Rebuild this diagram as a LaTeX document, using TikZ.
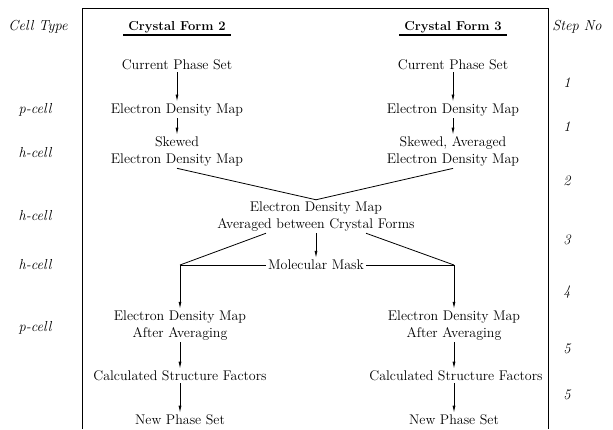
\documentclass[tikz,border=0pt]{standalone}
\usepackage{tikz}
\usetikzlibrary{arrows.meta}

\begin{document}
\begin{tikzpicture}[x=1pt, y=-1pt,
    every node/.style={font=\fontsize{14}{16.5}\selectfont, align=center, inner sep=2pt},
    side/.style={font=\fontsize{14.5}{16}\selectfont\itshape},
    head/.style={font=\fontsize{13}{16}\selectfont\bfseries, inner xsep=5pt},
    flow/.style={-{Latex[length=7pt, width=3pt]}, thick},
    link/.style={thick}]
    \useasboundingbox (0,0) rectangle (613,429);

    % Frame
    \draw[thick] (82,429) -- (82,8) -- (548,8) -- (548,429);

    % Column headings
    \node[side] (celltype) at (38,27) {Cell Type};
    \node[side] (stepno) at (577,27) {Step No};
    \node[head] (form2) at (177,27) {Crystal Form 2};
    \node[head] (form3) at (453,27) {Crystal Form 3};
    \draw[very thick] (form2.south west) -- (form2.south east);
    \draw[very thick] (form3.south west) -- (form3.south east);

    % Crystal form 2
    \node (cps2) at (177,65) {Current Phase Set};
    \node (edm2) at (177,110) {Electron Density Map};
    \node (skw2) at (177,151.5) {Skewed\\Electron Density Map};

    % Crystal form 3
    \node (cps3) at (453,65) {Current Phase Set};
    \node (edm3) at (453,110) {Electron Density Map};
    \node (skw3) at (453,151.5) {Skewed, Averaged\\Electron Density Map};

    % Averaging and mask
    \node (avg) at (316,216.5) {Electron Density Map\\Averaged between Crystal Forms};
    \node (mask) at (316,265) {Molecular Mask};
    \coordinate (bl) at (180,265);
    \coordinate (br) at (454,265);

    % Lower part
    \node (after2) at (180,325.5) {Electron Density Map\\After Averaging};
    \node (calc2) at (180,376) {Calculated Structure Factors};
    \node (new2) at (180,420) {New Phase Set};
    \node (after3) at (454,325.5) {Electron Density Map\\After Averaging};
    \node (calc3) at (456,376) {Calculated Structure Factors};
    \node (new3) at (454,420) {New Phase Set};

    % Arrows
    \draw[flow] (cps2) -- (edm2);
    \draw[flow] (edm2) -- (skw2);
    \draw[flow] (cps3) -- (edm3);
    \draw[flow] (edm3) -- (skw3);
    \draw[link] (skw2.south) -- (avg.north);
    \draw[link] (skw3.south) -- (avg.north);
    \draw[flow] (avg) -- (mask);
    \draw[link] (mask.west |- avg.south) -- (bl);
    \draw[link] (mask.east |- avg.south) -- (br);
    \draw[link] (mask) -- (bl);
    \draw[link] (mask) -- (br);
    \draw[flow] (bl) -- (after2);
    \draw[flow] (br) -- (after3);
    \draw[flow] (after2) -- (calc2);
    \draw[flow] (calc2) -- (new2);
    \draw[flow] (after3) -- (after3 |- calc3.north);
    \draw[flow] (calc3.south -| new3) -- (new3);

    % Cell types
    \node[side] (c1) at (35,110) {p-cell};
    \node[side] (c2) at (35,153) {h-cell};
    \node[side] (c3) at (35,216) {h-cell};
    \node[side] (c4) at (35,265) {h-cell};
    \node[side] (c5) at (35,328) {p-cell};

    % Step numbers
    \node[side] (s1) at (567,83) {1};
    \node[side] (s2) at (567,127) {1};
    \node[side] (s3) at (567,181) {2};
    \node[side] (s4) at (567,240) {3};
    \node[side] (s5) at (567,292) {4};
    \node[side] (s6) at (567,349) {5};
    \node[side] (s7) at (567,395) {5};
\end{tikzpicture}
\end{document}
